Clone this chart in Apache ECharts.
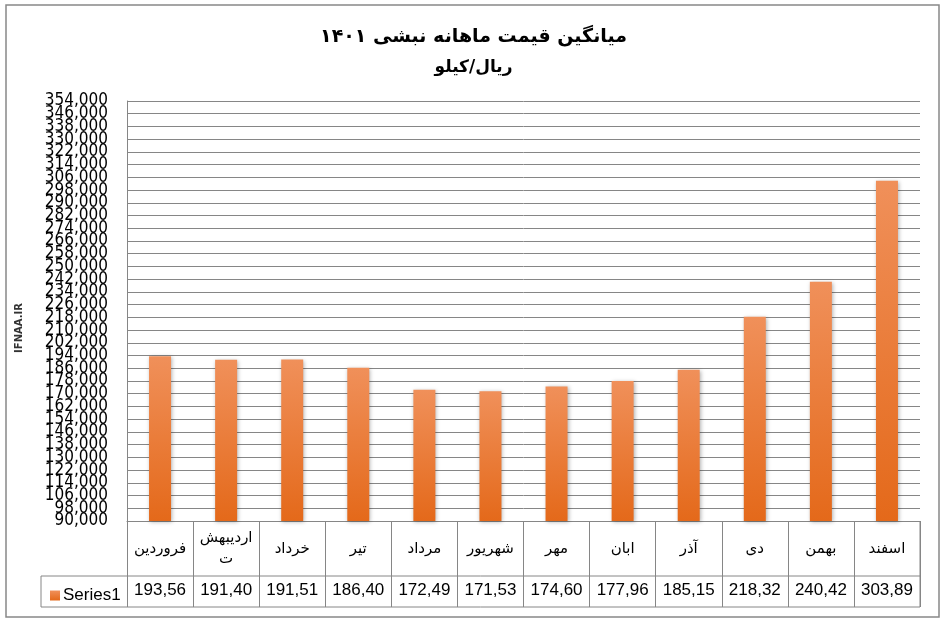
<!DOCTYPE html>
<html><head><meta charset="utf-8">
<script src="https://cdn.jsdelivr.net/npm/echarts@6/dist/echarts.min.js"></script>
<style>html,body{margin:0;padding:0;background:#fff}#c{width:947px;height:623px}</style>
</head><body><div id="c"></div>
<script>
const titleText = 'میانگین قیمت ماهانه نبشی ۱۴۰۱';
const subtitleText = 'ریال/کیلو';
const sideText = 'IFNAA.IR';
const seriesName = 'Series1';
const categories = ['فروردین','اردیبهشت','خرداد','تیر','مرداد','شهریور','مهر','ابان','آذر','دی','بهمن','اسفند'];
const values = [193560,191400,191510,186400,172490,171530,174600,177960,185150,218320,240420,303890];
const yMin = 90000, yMax = 354000, yStep = 8000;

const fmt = v => Number(v).toLocaleString('en-US');
const catFont = '15px "DejaVu Sans"';
const measureCtx = document.createElement('canvas').getContext('2d');
measureCtx.font = catFont;
const cellLimit = 57;
function wrapCell(s){
  if (measureCtx.measureText(s).width <= cellLimit) return s;
  let k = s.length - 1;
  while (k > 1 && measureCtx.measureText(s.slice(0,k)).width > cellLimit) k--;
  return s.slice(0,k) + '\n' + s.slice(k);
}
// tick labels overlap in the original; split them over two label layers so none get culled
const tickIdx = v => Math.round((v - yMin) / yStep);
const yLabel = (v, parity) => (tickIdx(v) % 2 === parity ? fmt(v) : '');

const chart = echarts.init(document.getElementById('c'), null, {renderer:'canvas'});
const gridLeft = 127, gridRight = 27, gridTop = 101, gridBottom = 102;
const yLabelStyle = {margin:19, hideOverlap:false, fontFamily:"'DejaVu Sans Condensed','Liberation Sans'", fontSize:17, color:'#000', showMinLabel:true, showMaxLabel:true};
chart.setOption({
  animation:false,
  backgroundColor:'#fff',
  title:{
    text:titleText, subtext:subtitleText, left:'center', top:23, itemGap:12,
    textStyle:{fontFamily:'DejaVu Sans', fontWeight:'bold', fontSize:19, color:'#000'},
    subtextStyle:{fontFamily:'DejaVu Sans', fontWeight:'bold', fontSize:17, color:'#000'}
  },
  legend:{
    left:45, top:582, itemWidth:10, itemHeight:10, icon:'rect', itemGap:0,
    textStyle:{fontFamily:'Liberation Sans', fontSize:17, color:'#000', padding:[0,0,0,-2]},
    data:[seriesName]
  },
  grid:{left:gridLeft, right:gridRight, top:gridTop, bottom:gridBottom, containLabel:false},
  xAxis:[{
    type:'category', data:categories, position:'bottom',
    axisLine:{show:true, lineStyle:{color:'#868686', width:1}},
    axisTick:{show:true, length:86, lineStyle:{color:'#868686', width:1}},
    axisLabel:{margin:28, verticalAlign:'middle', fontFamily:'DejaVu Sans', fontSize:15, color:'#000', lineHeight:21, interval:0,
      formatter:v=>wrapCell(v)}
  },{
    type:'category', data:categories, position:'bottom',
    axisLine:{show:false}, axisTick:{show:false},
    axisLabel:{margin:61, fontFamily:'Liberation Sans', fontSize:17, color:'#000', interval:0,
      width:60, overflow:'truncate', ellipsis:'',
      formatter:(v, i) => fmt(values[i])}
  }],
  yAxis:[{
    type:'value', min:yMin, max:yMax, interval:yStep,
    axisLine:{show:true, lineStyle:{color:'#868686', width:1}},
    axisTick:{show:false},
    splitLine:{show:true, lineStyle:{color:'#868686', width:1}},
    axisLabel:Object.assign({}, yLabelStyle, {formatter:v=>yLabel(v,0)})
  },{
    type:'value', min:yMin, max:yMax, interval:yStep, position:'left',
    axisLine:{show:false}, axisTick:{show:false}, splitLine:{show:false},
    axisLabel:Object.assign({}, yLabelStyle, {formatter:v=>yLabel(v,1)})
  }],
  series:[{
    name:seriesName, type:'bar', data:values, barWidth:22, yAxisIndex:0,
    itemStyle:{
      color:new echarts.graphic.LinearGradient(0,0,0,1,[{offset:0,color:'#F0905A'},{offset:1,color:'#E4691A'}]),
      shadowColor:'rgba(0,0,0,0.3)', shadowBlur:4, shadowOffsetX:1, shadowOffsetY:1
    }
  }],
  graphic:[
    {type:'rect', shape:{x:6,y:5,width:933,height:612}, style:{fill:'none', stroke:'#888', lineWidth:1.5}, silent:true},
    {type:'line', shape:{x1:41,y1:576,x2:920,y2:576}, style:{stroke:'#868686', lineWidth:1}},
    {type:'line', shape:{x1:41,y1:607,x2:920,y2:607}, style:{stroke:'#868686', lineWidth:1}},
    {type:'line', shape:{x1:41,y1:576,x2:41,y2:607}, style:{stroke:'#868686', lineWidth:1}},
    {type:'line', shape:{x1:920,y1:521,x2:920,y2:607}, style:{stroke:'#868686', lineWidth:1}},
    {type:'text', x:19, y:328, rotation:Math.PI/2, style:{text:sideText, fontFamily:'DejaVu Sans', fontWeight:'bold', fontSize:10, fill:'#333', align:'center', verticalAlign:'middle'}}
  ]
});
</script></body></html>
